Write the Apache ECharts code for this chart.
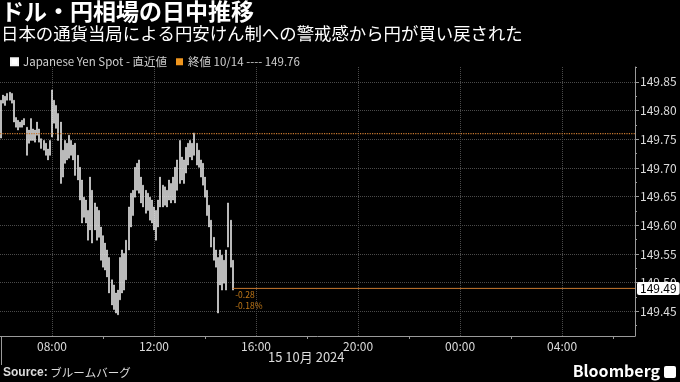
<!DOCTYPE html>
<html><head><meta charset="utf-8">
<script src="https://cdn.jsdelivr.net/npm/echarts@6/dist/echarts.min.js"></script>
<style>html,body{margin:0;padding:0;background:#000;}#c{width:680px;height:382px;}</style>
</head><body><div id="c"></div>
<script>
const TITLE = 'ドル・円相場の日中推移';
const SUBTITLE = '日本の通貨当局による円安けん制への警戒感から円が買い戻された';
const SERIES_NAME = 'Japanese Yen Spot - 直近値';
const PREV_CLOSE_NAME = '終値 10/14 ---- 149.76';
const PREV_CLOSE = 149.76;
const LAST_PRICE = 149.49;
const CHANGE_LABELS = ['-0.28', '-0.18%'];
const DATE_LABEL = '15 10月 2024';
const SOURCE_LABEL = 'Source:';
const SOURCE_TEXT = 'ブルームバーグ';
const BRAND = 'Bloomberg';

// 5-minute bars starting 06:00 (hours), lows and highs
const BAR_START_HOUR = 6;
const BAR_MINUTES = 5;
const LOWS = [
149.752,149.813,149.809,149.818,149.818,149.813,149.780,149.771,149.766,149.771,
149.771,149.775,149.722,149.743,149.748,149.748,149.745,149.757,149.745,149.734,
149.731,149.722,149.714,149.722,149.754,149.778,149.769,149.748,149.673,149.684,
149.708,149.714,149.717,149.722,149.714,149.687,149.679,149.644,149.604,149.614,
149.604,149.574,149.592,149.569,149.592,149.574,149.579,149.539,149.527,149.522,
149.510,149.482,149.461,149.453,149.447,149.444,149.470,149.482,149.487,149.505,
149.557,149.597,149.617,149.649,149.661,149.656,149.639,149.632,149.621,149.626,
149.609,149.604,149.592,149.574,149.597,149.632,149.632,149.635,149.632,149.644,
149.639,149.644,149.639,149.661,149.673,149.679,149.673,149.691,149.705,149.719,
149.714,149.722,149.705,149.701,149.684,149.670,149.649,149.617,149.597,149.562,
149.539,149.527,149.447,149.496,149.487,149.499,149.487,149.562,149.527,149.487
];
const HIGHS = [
149.818,149.827,149.825,149.830,149.832,149.830,149.818,149.788,149.783,149.780,
149.783,149.786,149.771,149.766,149.786,149.768,149.766,149.780,149.768,149.751,
149.748,149.743,149.733,149.748,149.836,149.818,149.809,149.795,149.780,149.731,
149.748,149.743,149.757,149.748,149.740,149.743,149.722,149.701,149.679,149.649,
149.644,149.626,149.684,149.661,149.639,149.632,149.626,149.597,149.582,149.569,
149.557,149.544,149.505,149.496,149.482,149.487,149.544,149.557,149.551,149.574,
149.632,149.656,149.661,149.701,149.708,149.714,149.684,149.670,149.661,149.656,
149.649,149.644,149.632,149.626,149.644,149.684,149.670,149.667,149.661,149.679,
149.673,149.684,149.701,149.714,149.748,149.719,149.714,149.736,149.743,149.748,
149.743,149.761,149.743,149.731,149.714,149.708,149.684,149.661,149.635,149.609,
149.579,149.557,149.544,149.557,149.548,149.539,149.557,149.639,149.609,149.539
];

const X_TICKS = [8, 12, 16, 20, 24, 28];
const X_TICK_LABELS = ['08:00', '12:00', '16:00', '20:00', '00:00', '04:00'];
const X_MINOR_TICKS = [10, 14, 18, 22, 26, 30];
const X_SESSION_START = [6];
const Y_TICKS = [149.45, 149.50, 149.55, 149.60, 149.65, 149.70, 149.75, 149.80, 149.85];
const Y_MINOR_TICKS = [149.425, 149.475, 149.525, 149.575, 149.625, 149.675, 149.725, 149.775, 149.825, 149.875];
const X_MIN = 5.96, X_MAX = 30.86;
const Y_MIN = 149.407, Y_MAX = 149.876;

const FONT = '"Noto Sans CJK JP", "Noto Sans", sans-serif';
const ORANGE_LINE = '#c8782f';
const ORANGE = '#f0961e';
const GRID_COLOR = '#4a4a4a';
const AXIS_COLOR = '#9a9a9a';
const LABEL_COLOR = '#dcdcdc';

const times = LOWS.map((_, i) => BAR_START_HOUR + i * BAR_MINUTES / 60);
const candles = LOWS.map((lo, i) => [times[i], lo, HIGHS[i], lo, HIGHS[i]]);
const lastTime = times[times.length - 1];

const chart = echarts.init(document.getElementById('c'), null, {renderer: 'canvas'});
const baseX = {type: 'value', min: X_MIN, max: X_MAX, position: 'bottom'};
const baseY = {type: 'value', min: Y_MIN, max: Y_MAX, position: 'right'};

chart.setOption({
  animation: false,
  backgroundColor: '#000',
  textStyle: {fontFamily: FONT},
  title: {
    text: TITLE, subtext: SUBTITLE, left: 1, top: 0, padding: 0, itemGap: 2,
    textStyle: {color: '#fff', fontSize: 23, fontWeight: 'bold', fontFamily: FONT},
    subtextStyle: {color: '#fff', fontSize: 17.4, fontFamily: FONT}
  },
  legend: {
    left: 5, top: 51, itemWidth: 7, itemHeight: 7, itemGap: 9, icon: 'rect',
    textStyle: {color: '#cfcfcf', fontSize: 11.5, fontFamily: FONT},
    data: [SERIES_NAME, PREV_CLOSE_NAME]
  },
  grid: {left: 0, right: 45, top: 67, bottom: 46, containLabel: false, outerBoundsMode: 'none'},
  xAxis: [
    Object.assign({}, baseX, {
      axisLine: {show: true, lineStyle: {color: AXIS_COLOR, width: 1}},
      axisTick: {show: false, customValues: X_TICKS},
      axisLabel: {customValues: X_TICKS, color: LABEL_COLOR, fontSize: 12, margin: 4,
        formatter: v => X_TICK_LABELS[X_TICKS.indexOf(Math.round(v))] || ''},
      splitLine: {show: true, lineStyle: {color: GRID_COLOR, type: 'dotted', width: 1}}
    }),
    Object.assign({}, baseX, {
      axisLine: {show: false},
      axisTick: {show: true, customValues: X_MINOR_TICKS, length: 3, lineStyle: {color: AXIS_COLOR}},
      axisLabel: {show: false}, splitLine: {show: false}
    }),
    Object.assign({}, baseX, {
      axisLine: {show: false},
      axisTick: {show: true, customValues: X_SESSION_START, length: 29, lineStyle: {color: AXIS_COLOR}},
      axisLabel: {show: false}, splitLine: {show: false}
    })
  ],
  yAxis: [
    Object.assign({}, baseY, {
      axisLine: {show: true, lineStyle: {color: AXIS_COLOR, width: 1}},
      axisTick: {show: true, customValues: Y_TICKS, length: 4, lineStyle: {color: AXIS_COLOR}},
      axisLabel: {customValues: Y_TICKS, color: LABEL_COLOR, fontSize: 12, margin: 5,
        formatter: v => v.toFixed(2)},
      splitLine: {show: true, lineStyle: {color: GRID_COLOR, type: 'dotted', width: 1}}
    }),
    Object.assign({}, baseY, {
      axisLine: {show: false},
      axisTick: {show: true, customValues: Y_MINOR_TICKS, length: 2, lineStyle: {color: AXIS_COLOR}},
      axisLabel: {show: false}, splitLine: {show: false}
    })
  ],
  series: [
    {
      name: PREV_CLOSE_NAME, type: 'line', xAxisIndex: 0, yAxisIndex: 0,
      data: [[X_MIN, PREV_CLOSE], [X_MAX, PREV_CLOSE]],
      symbol: 'none', itemStyle: {color: ORANGE},
      lineStyle: {color: ORANGE_LINE, type: 'dotted', width: 1.2}, silent: true
    },
    {
      name: SERIES_NAME, type: 'candlestick', xAxisIndex: 0, yAxisIndex: 0,
      data: candles, encode: {x: 0, y: [1, 2, 3, 4]},
      barWidth: 1.5,
      itemStyle: {color: '#fff', color0: '#fff', borderColor: '#f4f4f4', borderColor0: '#f4f4f4', borderWidth: 0.5}
    },
    {
      name: 'last', type: 'line', xAxisIndex: 0, yAxisIndex: 0,
      data: [[lastTime, LAST_PRICE], [X_MAX, LAST_PRICE]],
      symbol: 'none', lineStyle: {color: ORANGE_LINE, width: 1}, silent: true,
      endLabel: {show: true, formatter: () => LAST_PRICE.toFixed(2), distance: 2,
        color: '#000', backgroundColor: '#fff', fontSize: 12, padding: [1, 3, 0, 3], borderRadius: 2,
        fontFamily: FONT}
    },
    {
      name: 'change', type: 'scatter', xAxisIndex: 0, yAxisIndex: 0,
      data: [[lastTime, LAST_PRICE]], symbolSize: 1, itemStyle: {color: 'rgba(0,0,0,0)'}, silent: true,
      label: {show: true, position: [3, 2], align: 'left', verticalAlign: 'top',
        formatter: CHANGE_LABELS.join('\n'), color: ORANGE, fontSize: 8.5, lineHeight: 10.5, fontFamily: FONT}
    }
  ],
  graphic: [
    {type: 'text', left: 268, top: 351, style: {text: DATE_LABEL, fill: LABEL_COLOR, font: '13px ' + FONT}},
    {type: 'text', left: 3, top: 367, style: {
      text: '{b|' + SOURCE_LABEL + '} ' + SOURCE_TEXT,
      rich: {b: {fontWeight: 'bold', fill: '#ddd', font: 'bold 12px ' + FONT}},
      fill: '#ddd', font: '11.5px ' + FONT}},
    {type: 'text', right: 20, top: 363, style: {text: BRAND, fill: '#fff', font: 'bold 16px ' + FONT}},
    {type: 'rect', right: 4, top: 366, shape: {width: 12, height: 12, r: 2}, style: {fill: '#fff'}}
  ]
});
</script></body></html>
